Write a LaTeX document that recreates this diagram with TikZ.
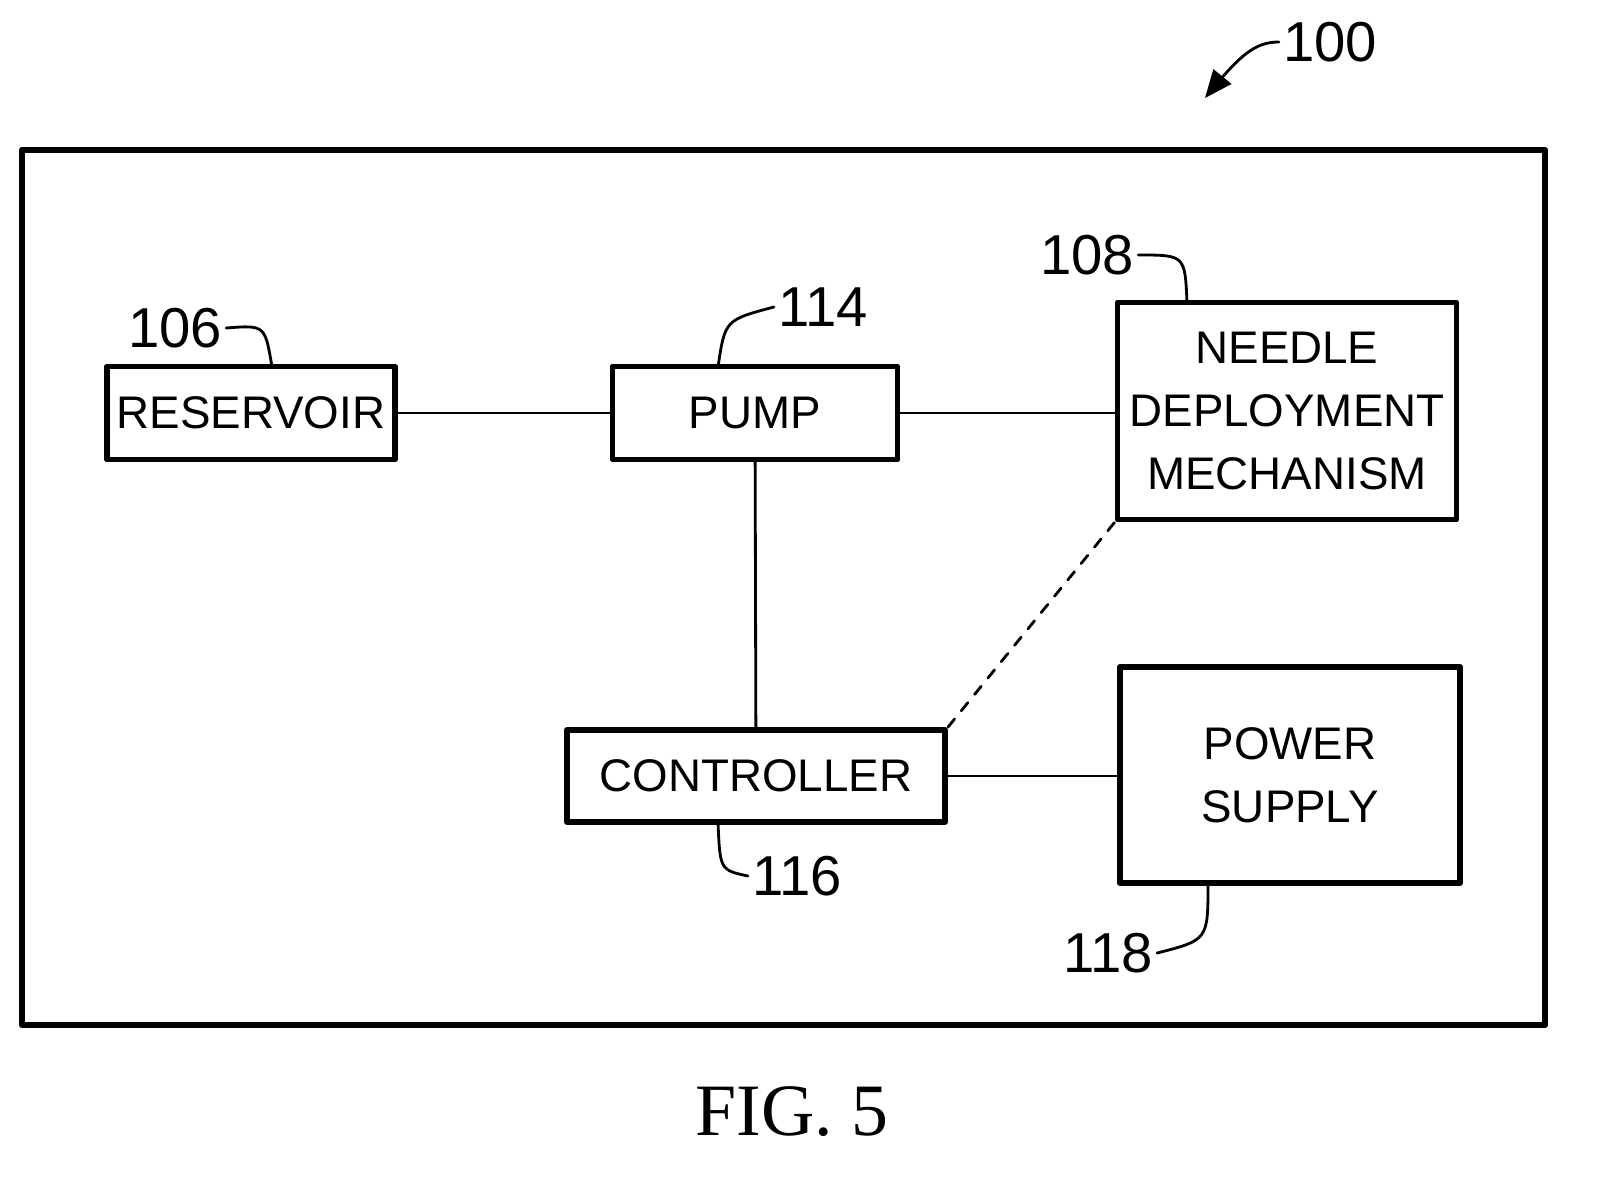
\documentclass[tikz,border=0pt]{standalone}
\usepackage{fontspec}
\setmainfont{Liberation Sans}
\newfontfamily\capfont{Liberation Serif}
\usetikzlibrary{arrows}
\tikzset{
  blk/.style={draw,line width=1.6pt,minimum width=#1,inner sep=0pt,align=center,
    font=\fontsize{13}{18}\selectfont},
  lbl/.style={font=\fontsize{16}{19}\selectfont,inner sep=1pt},
  wire/.style={line width=0.8pt}
}
\begin{document}
\begin{tikzpicture}[line cap=round,line join=round,>=triangle 45,x=0.01cm,y=-0.01cm]

		\useasboundingbox (0,0) rectangle (1600,1179);
		%outer frame
		\draw[line width=1.8pt] (22,150) rectangle (1545,1025);

		%blocks
		\node[blk=2.88cm,minimum height=0.93cm] (res) at (251,413) {RESERVOIR};
		\node[blk=2.85cm,minimum height=0.93cm] (pump) at (755,413) {PUMP};
		\node[blk=3.39cm,minimum height=2.17cm] (needle) at (1287,411) {NEEDLE\\DEPLOYMENT\\MECHANISM};
		\node[blk=3.78cm,minimum height=0.92cm] (ctrl) at (756,776) {CONTROLLER};
		\node[blk=3.40cm,minimum height=2.16cm] (power) at (1290,775) {POWER\\SUPPLY};

		%connections
		\draw[wire] (res) -- (pump);
		\draw[wire] (pump) -- (needle.west |- pump);
		\draw[wire] (pump) -- (ctrl);
		\draw[wire] (ctrl) -- (power.west |- ctrl);
		\draw[wire,dashed] (ctrl.north east) -- (needle.south west);

		%reference numerals
		\node[lbl] (n106) at (175,328) {106};
		\node[lbl] (n114) at (823,307) {114};
		\node[lbl] (n108) at (1087,255) {108};
		\node[lbl] (n116) at (797,876) {116};
		\node[lbl] (n118) at (1108,953) {118};
		\node[lbl] (n100) at (1330,42) {100};

		\coordinate (t106) at (272,367);
		\coordinate (t114) at (718,367);
		\coordinate (t108) at (1187,303);
		\coordinate (t116) at (718,822);
		\coordinate (t118) at (1208,883);
		\coordinate (t100) at (1205,98);

		\draw[wire] (n106.east) .. controls (265,325) .. (t106);
		\draw[wire] (n114.west) .. controls (725,320) .. (t114);
		\draw[wire] (n108.east) .. controls (1185,255) .. (t108);
		\draw[wire] (n116.west) .. controls (720,870) .. (t116);
		\draw[wire] (n118.east) .. controls (1208,940) .. (t118);
		\draw[wire,->] (n100.west) .. controls (1255,42) and (1240,55) .. (t100);

		\node[font=\capfont\fontsize{21}{25}\selectfont] (fig) at (792,1112) {FIG. 5};

	\end{tikzpicture}
\end{document}
